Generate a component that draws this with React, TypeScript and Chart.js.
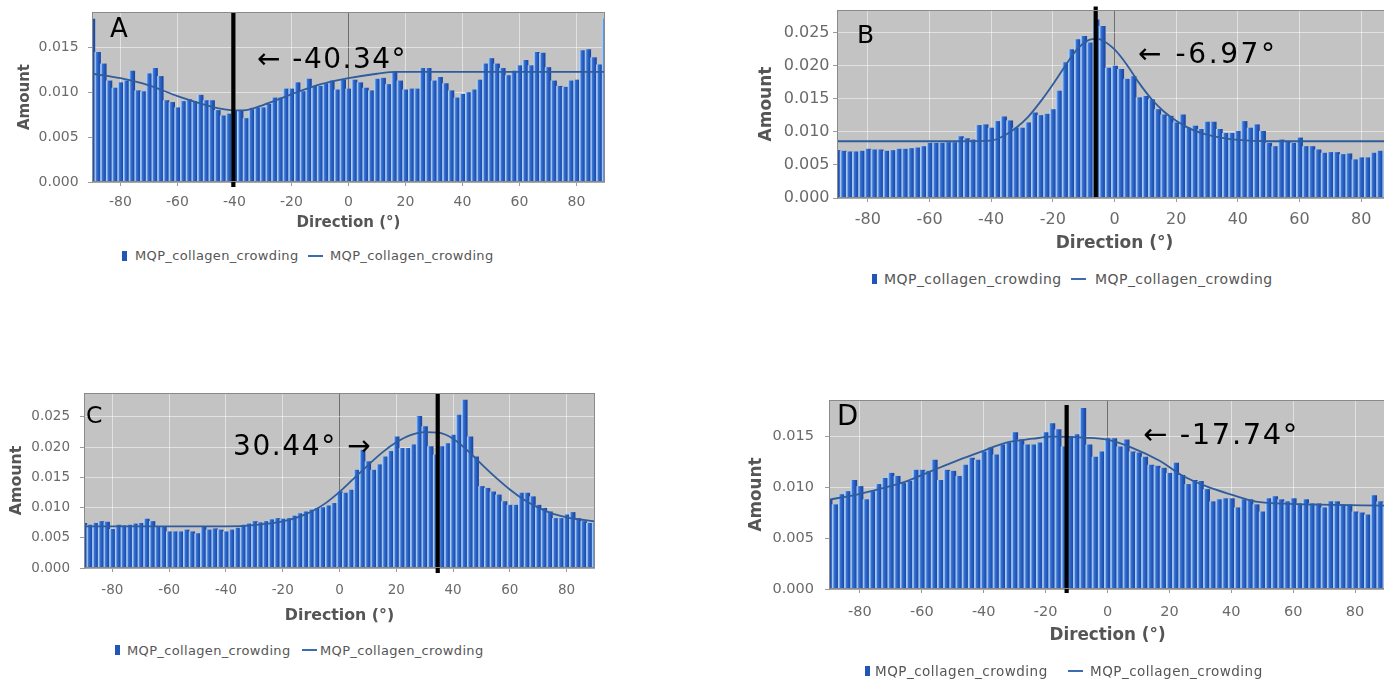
import React, { useEffect, useRef } from "react";
import { Chart, registerables } from "chart.js";

Chart.register(...registerables);

// ---------------- DATA ----------------
const SERIES_NAME = "MQP_collagen_crowding";
const X_TITLE = "Direction (°)";
const Y_TITLE = "Amount";

const BIN_CENTERS = [
  -90, -88, -86, -84, -82, -80, -78, -76, -74, -72,
  -70, -68, -66, -64, -62, -60, -58, -56, -54, -52,
  -50, -48, -46, -44, -42, -40, -38, -36, -34, -32,
  -30, -28, -26, -24, -22, -20, -18, -16, -14, -12,
  -10, -8, -6, -4, -2, 0, 2, 4, 6, 8,
  10, 12, 14, 16, 18, 20, 22, 24, 26, 28,
  30, 32, 34, 36, 38, 40, 42, 44, 46, 48,
  50, 52, 54, 56, 58, 60, 62, 64, 66, 68,
  70, 72, 74, 76, 78, 80, 82, 84, 86, 88,
  90,
];

const X_TICKS = [-80, -60, -40, -20, 0, 20, 40, 60, 80];
const Y_TICKS_SMALL = [0, 0.005, 0.01, 0.015];
const Y_TICKS_LARGE = [0, 0.005, 0.01, 0.015, 0.02, 0.025];

const A_BARS = [
  0.0182, 0.0145, 0.0132, 0.0113, 0.0105, 0.0111, 0.0113, 0.0124, 0.0102, 0.0101,
  0.0121, 0.0127, 0.0118, 0.0091, 0.0089, 0.0083, 0.0090, 0.0092, 0.0090, 0.0097,
  0.0091, 0.0091, 0.0080, 0.0074, 0.0076, 0.0079, 0.0080, 0.0071, 0.0081, 0.0083,
  0.0083, 0.0087, 0.0094, 0.0094, 0.0104, 0.0104, 0.0111, 0.0101, 0.0115, 0.0107,
  0.0107, 0.0110, 0.0113, 0.0103, 0.0114, 0.0104, 0.0114, 0.0111, 0.0105, 0.0102,
  0.0115, 0.0116, 0.0109, 0.0123, 0.0113, 0.0103, 0.0104, 0.0104, 0.0127, 0.0127,
  0.0113, 0.0117, 0.0110, 0.0102, 0.0094, 0.0098, 0.0100, 0.0103, 0.0114, 0.0132,
  0.0138, 0.0132, 0.0127, 0.0119, 0.0124, 0.0130, 0.0136, 0.0130, 0.0145, 0.0144,
  0.0128, 0.0113, 0.0107, 0.0106, 0.0113, 0.0114, 0.0147, 0.0148, 0.0139, 0.0131,
  0.0182,
];
const A_FIT_X = [-90, -80, -70, -60, -50, -45, -40, -35, -30, -20, -10, 0, 10, 17, 30, 50, 70, 90];
const A_FIT_Y = [0.0121, 0.0116, 0.0108, 0.0096, 0.0086, 0.0082, 0.0080, 0.0081, 0.0086, 0.0098, 0.0109, 0.0116, 0.0121, 0.0123, 0.0123, 0.0123, 0.0123, 0.0123];
const A_MARKER = -40.4;

const B_BARS = [
  0.0072, 0.0071, 0.0070, 0.0070, 0.0071, 0.0074, 0.0073, 0.0073, 0.0071, 0.0072,
  0.0074, 0.0074, 0.0075, 0.0076, 0.0078, 0.0083, 0.0083, 0.0083, 0.0084, 0.0084,
  0.0093, 0.0090, 0.0088, 0.0110, 0.0111, 0.0106, 0.0116, 0.0123, 0.0117, 0.0106,
  0.0106, 0.0114, 0.0129, 0.0125, 0.0127, 0.0134, 0.0162, 0.0205, 0.0225, 0.0240,
  0.0245, 0.0235, 0.0270, 0.0260, 0.0197, 0.0200, 0.0195, 0.0180, 0.0184, 0.0152,
  0.0154, 0.0149, 0.0134, 0.0126, 0.0124, 0.0114, 0.0126, 0.0106, 0.0109, 0.0104,
  0.0115, 0.0115, 0.0104, 0.0098, 0.0098, 0.0101, 0.0116, 0.0106, 0.0111, 0.0101,
  0.0083, 0.0078, 0.0088, 0.0086, 0.0083, 0.0091, 0.0078, 0.0078, 0.0073, 0.0068,
  0.0069, 0.0069, 0.0066, 0.0067, 0.0058, 0.0061, 0.0061, 0.0068, 0.0071, 0.0071,
  0.0072,
];
const B_FIT_X = [-90, -50, -40, -36, -32, -28, -24, -20, -16, -12, -8, -6, -4, 0, 4, 8, 12, 16, 20, 25, 30, 35, 40, 50, 90];
const B_FIT_Y = [0.0086, 0.0086, 0.0087, 0.0094, 0.0106, 0.0123, 0.0146, 0.0172, 0.0200, 0.0226, 0.0240, 0.0241, 0.0239, 0.0225, 0.0202, 0.0174, 0.0150, 0.0131, 0.0117, 0.0104, 0.0096, 0.0091, 0.0088, 0.0086, 0.0086];
const B_MARKER = -6.1;

const C_BARS = [
  0.0074, 0.0071, 0.0074, 0.0077, 0.0076, 0.0064, 0.0071, 0.0070, 0.0071, 0.0073,
  0.0074, 0.0081, 0.0077, 0.0069, 0.0069, 0.0060, 0.0060, 0.0060, 0.0063, 0.0060,
  0.0057, 0.0068, 0.0063, 0.0065, 0.0063, 0.0060, 0.0063, 0.0066, 0.0071, 0.0073,
  0.0077, 0.0075, 0.0077, 0.0080, 0.0082, 0.0081, 0.0082, 0.0086, 0.0090, 0.0093,
  0.0096, 0.0099, 0.0100, 0.0103, 0.0107, 0.0126, 0.0124, 0.0129, 0.0162, 0.0195,
  0.0176, 0.0162, 0.0171, 0.0184, 0.0193, 0.0217, 0.0198, 0.0198, 0.0204, 0.0251,
  0.0234, 0.0201, 0.0187, 0.0201, 0.0206, 0.0220, 0.0253, 0.0278, 0.0217, 0.0184,
  0.0135, 0.0132, 0.0126, 0.0121, 0.0110, 0.0104, 0.0104, 0.0124, 0.0124, 0.0118,
  0.0104, 0.0099, 0.0093, 0.0082, 0.0082, 0.0088, 0.0092, 0.0082, 0.0077, 0.0074,
  0.0074,
];
const C_FIT_X = [-90, -40, -30, -20, -14, -10, -5, 0, 5, 10, 15, 20, 25, 30, 35, 40, 45, 50, 55, 60, 65, 70, 75, 80, 90];
const C_FIT_Y = [0.0069, 0.0069, 0.0071, 0.0077, 0.0085, 0.0093, 0.0107, 0.0126, 0.0148, 0.0170, 0.0191, 0.0208, 0.0220, 0.0225, 0.0224, 0.0214, 0.0195, 0.0172, 0.0150, 0.0130, 0.0113, 0.0100, 0.0090, 0.0084, 0.0077];
const C_MARKER = 34.6;

const D_BARS = [
  0.0088, 0.0083, 0.0093, 0.0096, 0.0107, 0.0101, 0.0088, 0.0096, 0.0103, 0.0109,
  0.0114, 0.0111, 0.0104, 0.0106, 0.0117, 0.0117, 0.0116, 0.0127, 0.0107, 0.0117,
  0.0116, 0.0111, 0.0122, 0.0129, 0.0127, 0.0135, 0.0139, 0.0132, 0.0142, 0.0144,
  0.0154, 0.0147, 0.0142, 0.0142, 0.0144, 0.0154, 0.0163, 0.0157, 0.0140, 0.0150,
  0.0152, 0.0178, 0.0142, 0.0130, 0.0135, 0.0148, 0.0148, 0.0140, 0.0147, 0.0135,
  0.0134, 0.0130, 0.0122, 0.0121, 0.0119, 0.0114, 0.0124, 0.0112, 0.0103, 0.0107,
  0.0106, 0.0098, 0.0086, 0.0088, 0.0089, 0.0089, 0.0080, 0.0088, 0.0088, 0.0083,
  0.0076, 0.0089, 0.0091, 0.0088, 0.0086, 0.0089, 0.0084, 0.0088, 0.0084, 0.0084,
  0.0080, 0.0086, 0.0086, 0.0083, 0.0083, 0.0076, 0.0075, 0.0073, 0.0092, 0.0086,
  0.0085,
];
const D_FIT_X = [-90, -81, -73, -65, -57, -49, -41, -33, -24, -18, -8, 0, 8, 17, 24, 32, 40, 48, 57, 68, 90];
const D_FIT_Y = [0.0088, 0.0093, 0.0099, 0.0106, 0.0116, 0.0126, 0.0135, 0.0144, 0.0148, 0.0150, 0.0149, 0.0147, 0.0139, 0.0126, 0.0112, 0.0101, 0.0093, 0.0086, 0.0084, 0.0083, 0.0082];
const D_MARKER = -13.2;

const LABEL_A = "A";
const LABEL_B = "B";
const LABEL_C = "C";
const LABEL_D = "D";
const NOTE_A = "← -40.34°";
const NOTE_B = "← -6.97°";
const NOTE_C = "30.44° →";
const NOTE_D = "← -17.74°";

// ---------------- STYLE / LAYOUT ----------------
const FONT = "'DejaVu Sans', Verdana, sans-serif";
const PLOT_BG = "#c3c3c3";
const FIT_COLOR = "#2f5c9c";
const PAD_TOP = 30;

type PanelSpec = {
  bars: number[];
  fitX: number[];
  fitY: number[];
  marker: number;
  markerSpan: [number, number];
  yTicks: number[];
  yMax: number;
  canvasLeft: number;
  plotL: number;
  plotR: number;
  plotT: number;
  plotB: number;
  xAxisH: number;
  tickSize: number;
  titleSize: number;
  xTickPad: number;
  yTickPad: number;
  yTitlePad: number;
};

const PANELS: PanelSpec[] = [
  {
    bars: A_BARS, fitX: A_FIT_X, fitY: A_FIT_Y, marker: A_MARKER, markerSpan: [-0.00056, 0.0190],
    yTicks: Y_TICKS_SMALL, yMax: 0.0190,
    canvasLeft: 0, plotL: 92, plotR: 605, plotT: 12, plotB: 182, xAxisH: 50,
    tickSize: 14, titleSize: 15, xTickPad: 7.6, yTickPad: 9.4, yTitlePad: 16,
  },
  {
    bars: B_BARS, fitX: B_FIT_X, fitY: B_FIT_Y, marker: B_MARKER, markerSpan: [0.0001, 0.0290],
    yTicks: Y_TICKS_LARGE, yMax: 0.02848,
    canvasLeft: 740, plotL: 837, plotR: 1392, plotT: 10, plotB: 198, xAxisH: 56,
    tickSize: 16, titleSize: 17, xTickPad: 8.1, yTickPad: 3.5, yTitlePad: 16.8,
  },
  {
    bars: C_BARS, fitX: C_FIT_X, fitY: C_FIT_Y, marker: C_MARKER, markerSpan: [-0.00083, 0.02897],
    yTicks: Y_TICKS_LARGE, yMax: 0.02897,
    canvasLeft: 0, plotL: 84, plotR: 595, plotT: 393, plotB: 568, xAxisH: 57,
    tickSize: 13.5, titleSize: 15.8, xTickPad: 9.9, yTickPad: 10, yTitlePad: 7.5,
  },
  {
    bars: D_BARS, fitX: D_FIT_X, fitY: D_FIT_Y, marker: D_MARKER, markerSpan: [-0.0004, 0.01812],
    yTicks: Y_TICKS_SMALL, yMax: 0.01861,
    canvasLeft: 735, plotL: 829, plotR: 1386, plotT: 400, plotB: 589, xAxisH: 57,
    tickSize: 14.5, titleSize: 16.8, xTickPad: 10.3, yTickPad: 11, yTitlePad: 11.9,
  },
];

const plotFrame = {
  id: "plotFrame",
  beforeDraw(chart: any) {
    const { ctx, chartArea: a } = chart;
    ctx.save();
    ctx.fillStyle = PLOT_BG;
    ctx.fillRect(a.left, a.top, a.right - a.left, a.bottom - a.top);
    ctx.restore();
  },
  afterDraw(chart: any) {
    const { ctx, chartArea: a } = chart;
    ctx.save();
    ctx.strokeStyle = "#8a8a8a";
    ctx.lineWidth = 1;
    ctx.strokeRect(a.left + 0.5, a.top + 0.5, a.right - a.left - 1, a.bottom - a.top - 1);
    ctx.restore();
  },
};

function barFill(c: any) {
  const chart = c.chart;
  const xs = chart.scales && chart.scales.x;
  if (!xs || !c.raw || typeof c.raw.x !== "number") return "#2459bd";
  const px = xs.getPixelForValue(c.raw.x);
  const half = Math.abs(xs.getPixelForValue(BIN_CENTERS[1]) - xs.getPixelForValue(BIN_CENTERS[0])) / 2;
  if (!Number.isFinite(px) || !Number.isFinite(half) || half <= 0) return "#2459bd";
  const g = chart.ctx.createLinearGradient(px - half, 0, px + half, 0);
  g.addColorStop(0, "#b7d4f6");
  g.addColorStop(0.18, "#86b4ec");
  g.addColorStop(0.3, "#3b76d3");
  g.addColorStop(0.65, "#2459bd");
  g.addColorStop(1, "#1a469f");
  return g;
}

function Panel({ spec }: { spec: PanelSpec }) {
  const ref = useRef<HTMLCanvasElement | null>(null);
  const width = spec.plotR - spec.canvasLeft;
  const height = PAD_TOP + (spec.plotB - spec.plotT) + spec.xAxisH;
  const top = spec.plotT - PAD_TOP;

  useEffect(() => {
    const canvas = ref.current;
    if (!canvas) return;
    const yAxisW = spec.plotL - spec.canvasLeft;
    const chart = new Chart(canvas, {
      type: "bar",
      data: {
        datasets: [
          {
            type: "line",
            label: "marker",
            data: [
              { x: spec.marker, y: spec.markerSpan[0] },
              { x: spec.marker, y: spec.markerSpan[1] },
            ],
            borderColor: "#000000",
            borderWidth: 4.2,
            pointRadius: 0,
            borderCapStyle: "butt",
            clip: false,
            order: 0,
          } as any,
          {
            type: "line",
            label: SERIES_NAME,
            data: spec.fitX.map((x, i) => ({ x, y: spec.fitY[i] })),
            borderColor: FIT_COLOR,
            borderWidth: 1.8,
            pointRadius: 0,
            cubicInterpolationMode: "monotone",
            order: 1,
          } as any,
          {
            type: "bar",
            label: SERIES_NAME,
            data: BIN_CENTERS.map((x, i) => ({ x, y: spec.bars[i] })),
            backgroundColor: barFill,
            borderWidth: 0,
            barPercentage: 1,
            categoryPercentage: 1,
            clip: 0,
            order: 2,
          } as any,
        ],
      },
      options: {
        responsive: false,
        animation: false,
        events: [],
        layout: { padding: { top: PAD_TOP, left: 0, right: 0, bottom: 0 } },
        plugins: { legend: { display: false }, tooltip: { enabled: false } },
        scales: {
          x: {
            type: "linear",
            min: -90,
            max: 90,
            offset: false,
            afterBuildTicks: (axis: any) => {
              axis.ticks = X_TICKS.map((v) => ({ value: v }));
            },
            afterFit: (axis: any) => {
              axis.height = spec.xAxisH;
            },
            ticks: {
              autoSkip: false,
              maxRotation: 0,
              padding: spec.xTickPad,
              color: "#6a6a6a",
              font: { family: FONT, size: spec.tickSize },
              callback: (v: any) => String(v),
            },
            grid: {
              color: (c: any) => (c.tick && c.tick.value === 0 ? "#6f6f6f" : "rgba(255,255,255,0.5)"),
              lineWidth: 1,
              drawTicks: true,
              tickLength: 4,
              tickColor: "#9a9a9a",
              offset: false,
            },
            border: { display: true, color: "#a8a8a8" },
            title: {
              display: true,
              text: X_TITLE,
              color: "#555555",
              font: { family: FONT, size: spec.titleSize, weight: "bold" },
              padding: { top: 0, bottom: 0 },
            },
          },
          y: {
            type: "linear",
            min: 0,
            max: spec.yMax,
            afterBuildTicks: (axis: any) => {
              axis.ticks = spec.yTicks.map((v) => ({ value: v }));
            },
            afterFit: (axis: any) => {
              axis.width = yAxisW;
            },
            ticks: {
              padding: spec.yTickPad,
              color: "#6a6a6a",
              font: { family: FONT, size: spec.tickSize },
              callback: (v: any) => Number(v).toFixed(3),
            },
            grid: {
              color: "rgba(255,255,255,0.5)",
              lineWidth: 1,
              drawTicks: true,
              tickLength: 4,
              tickColor: "#9a9a9a",
            },
            border: { display: true, color: "#8a8a8a" },
            title: {
              display: true,
              text: Y_TITLE,
              color: "#555555",
              font: { family: FONT, size: spec.titleSize, weight: "bold" },
              padding: { top: spec.yTitlePad, bottom: 0 },
            },
          },
        },
      } as any,
      plugins: [plotFrame],
    });
    return () => chart.destroy();
  }, [spec]);

  return (
    <canvas
      ref={ref}
      width={width}
      height={height}
      style={{ position: "absolute", left: spec.canvasLeft, top, width, height }}
    />
  );
}

type TextSpec = { text: string; left: number; capTop: number; size: number; spacing?: number; color?: string };

function Label({ t }: { t: TextSpec }) {
  return (
    <div
      style={{
        position: "absolute",
        left: t.left,
        top: t.capTop - 0.117 * t.size,
        fontFamily: FONT,
        fontSize: t.size,
        lineHeight: 1,
        letterSpacing: t.spacing || 0,
        color: t.color || "#000",
        whiteSpace: "nowrap",
      }}
    >
      {t.text}
    </div>
  );
}

type LegendSpec = { boxLeft: number; textLeft: number; lineLeft: number; text2Left: number; capTop: number; size: number; spacing: number };

const LEGENDS: LegendSpec[] = [
  { boxLeft: 122, textLeft: 135, lineLeft: 308, text2Left: 330, capTop: 251, size: 13, spacing: 0.35 },
  { boxLeft: 872, textLeft: 884, lineLeft: 1071, text2Left: 1095, capTop: 274, size: 14, spacing: 0.45 },
  { boxLeft: 115, textLeft: 127, lineLeft: 302, text2Left: 320, capTop: 645.5, size: 13, spacing: 0.35 },
  { boxLeft: 865, textLeft: 875, lineLeft: 1068, text2Left: 1090, capTop: 666.5, size: 13.5, spacing: 0.5 },
];

function Legend({ l }: { l: LegendSpec }) {
  const capH = 0.729 * l.size;
  const mid = Math.round(l.capTop + capH / 2);
  return (
    <>
      <div style={{ position: "absolute", left: l.boxLeft, top: mid - 5, width: 5, height: 10, background: "#2256b6" }} />
      <Label t={{ text: SERIES_NAME, left: l.textLeft, capTop: l.capTop, size: l.size, spacing: l.spacing, color: "#565656" }} />
      <div style={{ position: "absolute", left: l.lineLeft, top: mid - 1, width: 15, height: 2, background: "#3b6bb3" }} />
      <Label t={{ text: SERIES_NAME, left: l.text2Left, capTop: l.capTop, size: l.size, spacing: l.spacing, color: "#565656" }} />
    </>
  );
}

const TEXTS: TextSpec[] = [
  { text: LABEL_A, left: 110, capTop: 18.5, size: 26 },
  { text: LABEL_B, left: 857, capTop: 24.5, size: 25 },
  { text: LABEL_C, left: 86, capTop: 406.5, size: 23.5 },
  { text: LABEL_D, left: 837, capTop: 405, size: 27.5 },
  { text: NOTE_A, left: 257, capTop: 48.3, size: 28, spacing: 1.5 },
  { text: NOTE_B, left: 1138, capTop: 43.3, size: 28, spacing: 2.6 },
  { text: NOTE_C, left: 233, capTop: 435, size: 28, spacing: 1.6 },
  { text: NOTE_D, left: 1143, capTop: 423.5, size: 29, spacing: 1.6 },
];

export default function App() {
  return (
    <div
      style={{
        position: "fixed",
        left: 0,
        top: 0,
        width: 1384,
        height: 682,
        overflow: "hidden",
        background: "#ffffff",
      }}
    >
      {PANELS.map((p, i) => (
        <Panel key={i} spec={p} />
      ))}
      {TEXTS.map((t, i) => (
        <Label key={"t" + i} t={t} />
      ))}
      {LEGENDS.map((l, i) => (
        <Legend key={"l" + i} l={l} />
      ))}
    </div>
  );
}
